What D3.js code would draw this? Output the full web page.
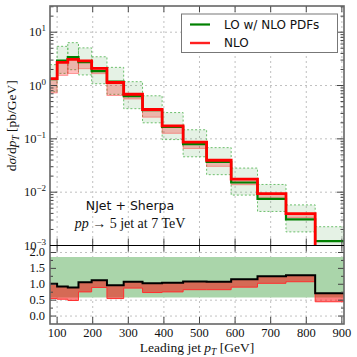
<!DOCTYPE html>
<html>
<head>
<meta charset="utf-8">
<script src="https://cdn.jsdelivr.net/npm/d3@7"></script>
<style>
  body { margin: 0; background: #fff; }
  svg { display: block; }
</style>
</head>
<body>
<svg id="chart" width="357" height="357"></svg>
<script>
// bin edges of leading jet pT [GeV]
const edges = [80, 100, 130, 160, 197, 240, 287, 340, 395, 454, 520, 589, 663, 743, 825, 906];

// main panel, dsigma/dpT [pb/GeV]
const loCentral = [1.32, 2.92, 3.42, 2.73, 1.86, 1.18, 0.635, 0.345, 0.167, 0.0795, 0.0368, 0.0152, 0.0075, 0.0031, 0.00121];
const loUp = [2.46, 5.43, 6.36, 5.08, 3.46, 2.19, 1.18, 0.642, 0.311, 0.148, 0.0684, 0.0283, 0.01395, 0.00577, 0.00225];
const loDown = [0.766, 1.69, 1.98, 1.58, 1.08, 0.684, 0.368, 0.2, 0.0969, 0.0461, 0.0213, 0.00882, 0.00435, 0.0018, 0.0007];
const nloCentral = [1.35, 2.72, 3.08, 2.89, 2.1, 1.14, 0.686, 0.355, 0.175, 0.0867, 0.0397, 0.0176, 0.00938, 0.00397, 0.00087];
const nloDown = [0.726, 1.55, 1.68, 2.07, 1.67, 0.65, 0.559, 0.255, 0.127, 0.066, 0.0305, 0.0138, 0.0077, 0.00335, 0.00054];

// ratio panel
const ratioCentral = [1.02, 0.93, 0.9, 1.06, 1.13, 0.97, 1.08, 1.03, 1.05, 1.09, 1.08, 1.16, 1.25, 1.28, 0.72];
const ratioDown = [0.55, 0.53, 0.49, 0.76, 0.9, 0.55, 0.88, 0.74, 0.76, 0.83, 0.83, 0.91, 1.03, 1.08, 0.45];
const loRatioUp = [1.86, 1.86, 1.86, 1.86, 1.86, 1.86, 1.86, 1.86, 1.86, 1.86, 1.86, 1.86, 1.86, 1.86, 1.86];
const loRatioDown = [0.58, 0.58, 0.58, 0.58, 0.58, 0.58, 0.58, 0.58, 0.58, 0.58, 0.58, 0.58, 0.58, 0.58, 0.58];

const xTicks = [100, 200, 300, 400, 500, 600, 700, 800, 900];
const logTicks = [1e1, 1e0, 1e-1, 1e-2, 1e-3];
const logTickExp = ["1", "0", "\u22121", "\u22122", "\u22123"];
const ratioTicks = [0, 0.5, 1, 1.5, 2];

const svg = d3.select("#chart");
const left = 50, right = 344;
const mainTop = 6, mainBottom = 245.5, ratioBottom = 324;
const serif = "'Liberation Serif', 'DejaVu Serif', serif";
const sans = "'DejaVu Sans', sans-serif";

const x = d3.scaleLinear().domain([80, 906]).range([left, right]);
const y = d3.scaleLog().domain([1e-3, 31]).range([mainBottom, mainTop]);
const yr = d3.scaleLinear().domain([-0.25, 2.22]).range([ratioBottom, mainBottom]);

const bins = d3.range(loCentral.length);

// clip paths
const defs = svg.append("defs");
defs.append("clipPath").attr("id", "clipMain").append("rect")
  .attr("x", left).attr("y", mainTop).attr("width", right - left).attr("height", mainBottom - mainTop);
defs.append("clipPath").attr("id", "clipRatio").append("rect")
  .attr("x", left).attr("y", mainBottom).attr("width", right - left).attr("height", ratioBottom - mainBottom);

// grid
const grid = svg.append("g").attr("stroke", "#b0b0b0").attr("stroke-width", 0.8).attr("stroke-dasharray", "2,3");
grid.selectAll("line.gx").data(xTicks).join("line")
  .attr("x1", d => x(d)).attr("x2", d => x(d)).attr("y1", mainTop).attr("y2", ratioBottom);
grid.selectAll("line.gy").data(logTicks.slice(0, 4)).join("line")
  .attr("x1", left).attr("x2", right).attr("y1", d => y(d)).attr("y2", d => y(d));
grid.selectAll("line.gr").data(ratioTicks).join("line")
  .attr("x1", left).attr("x2", right).attr("y1", d => yr(d)).attr("y2", d => yr(d));

// main panel
const main = svg.append("g").attr("clip-path", "url(#clipMain)");

main.selectAll("rect.loband").data(bins).join("rect")
  .attr("x", i => x(edges[i])).attr("width", i => x(edges[i + 1]) - x(edges[i]))
  .attr("y", i => y(loUp[i])).attr("height", i => y(loDown[i]) - y(loUp[i]))
  .attr("fill", "rgba(0,128,0,0.1)")
  .attr("stroke", "#6cbf6c").attr("stroke-width", 1).attr("stroke-dasharray", "2,2");

main.selectAll("rect.nloband").data(bins).join("rect")
  .attr("x", i => x(edges[i])).attr("width", i => x(edges[i + 1]) - x(edges[i]))
  .attr("y", i => y(nloCentral[i])).attr("height", i => y(nloDown[i]) - y(nloCentral[i]))
  .attr("fill", "rgba(255,0,0,0.25)")
  .attr("stroke", "rgba(255,60,60,0.45)").attr("stroke-width", 1);

function stepPoints(vals) {
  const pts = vals.map((v, i) => [edges[i], v]);
  pts.push([edges[edges.length - 1], vals[vals.length - 1]]);
  return pts;
}
const stepMain = d3.line().x(d => x(d[0])).y(d => y(d[1])).curve(d3.curveStepAfter);
const stepRatio = d3.line().x(d => x(d[0])).y(d => yr(d[1])).curve(d3.curveStepAfter);

main.append("path").attr("d", stepMain(stepPoints(loCentral)))
  .attr("fill", "none").attr("stroke", "#008000").attr("stroke-width", 2.2);
main.append("path").attr("d", stepMain(stepPoints(nloCentral)))
  .attr("fill", "none").attr("stroke", "#ff0000").attr("stroke-width", 2.8);

// ratio panel
const ratio = svg.append("g").attr("clip-path", "url(#clipRatio)");
const bandArea = (hi, lo) => d3.area()
  .x(d => x(d[0])).y0(d => yr(d[1])).y1(d => yr(d[2])).curve(d3.curveStepAfter)(
    hi.map((v, i) => [edges[i], lo[i], v]).concat([[edges[edges.length - 1], lo[lo.length - 1], hi[hi.length - 1]]]));

ratio.append("path").attr("d", bandArea(loRatioUp, loRatioDown))
  .attr("fill", "rgb(170,213,170)");
ratio.append("path").attr("d", bandArea(ratioCentral, ratioDown))
  .attr("fill", "rgba(255,0,0,0.5)");
ratio.append("path").attr("d", stepRatio(stepPoints(ratioDown)))
  .attr("fill", "none").attr("stroke", "#ff3030").attr("stroke-width", 1);
ratio.append("path").attr("d", stepRatio(stepPoints(ratioCentral)))
  .attr("fill", "none").attr("stroke", "#000").attr("stroke-width", 2);

// ticks
const ticks = svg.append("g").attr("stroke", "#444").attr("stroke-width", 1);
xTicks.forEach(t => {
  const px = x(t);
  ticks.append("line").attr("x1", px).attr("x2", px).attr("y1", mainTop).attr("y2", mainTop + 6);
  ticks.append("line").attr("x1", px).attr("x2", px).attr("y1", mainBottom - 7).attr("y2", mainBottom + 6);
  ticks.append("line").attr("x1", px).attr("x2", px).attr("y1", ratioBottom - 7).attr("y2", ratioBottom);
});
// log ticks, major and minor
const minor = [];
for (let e = -3; e <= 1; e++) for (let m = 1; m <= 9; m++) {
  const v = m * Math.pow(10, e);
  if (v >= 1e-3 && v <= 31) minor.push({ v, major: m === 1 });
}
minor.forEach(d => {
  const py = y(d.v), len = d.major ? 7 : 3.5;
  ticks.append("line").attr("x1", left).attr("x2", left + len).attr("y1", py).attr("y2", py);
  ticks.append("line").attr("x1", right - len).attr("x2", right).attr("y1", py).attr("y2", py);
});
d3.range(-0.25, 2.26, 0.25).forEach(v => {
  const major = Math.abs(v * 2 - Math.round(v * 2)) < 1e-6;
  const py = yr(v), len = major ? 6 : 3;
  if (py < mainBottom + 1 || py > ratioBottom - 1) return;
  ticks.append("line").attr("x1", left).attr("x2", left + len).attr("y1", py).attr("y2", py);
  ticks.append("line").attr("x1", right - len).attr("x2", right).attr("y1", py).attr("y2", py);
});

// frames
svg.append("rect").attr("x", left).attr("y", mainTop).attr("width", right - left).attr("height", ratioBottom - mainTop)
  .attr("fill", "none").attr("stroke", "#666").attr("stroke-width", 1.6);
svg.append("line").attr("x1", left).attr("x2", right).attr("y1", mainBottom).attr("y2", mainBottom)
  .attr("stroke", "#000").attr("stroke-width", 1.2);

// tick labels
const lab = svg.append("g").attr("font-family", serif).attr("font-size", 12.5).attr("fill", "#111");
xTicks.forEach(t => {
  lab.append("text").attr("x", x(t)).attr("y", 336.5).attr("text-anchor", "middle").text(t);
});
logTicks.forEach((t, i) => {
  const tx = lab.append("text").attr("x", 46).attr("y", y(t) + 4).attr("text-anchor", "end");
  tx.append("tspan").text("10");
  tx.append("tspan").attr("dy", -5).attr("font-size", 9).text(logTickExp[i]);
});
ratioTicks.forEach(t => {
  lab.append("text").attr("x", 45).attr("y", yr(t) + 4).attr("text-anchor", "end").text(d3.format(".1f")(t));
});

// axis titles
const xt = svg.append("text").attr("x", (left + right) / 2).attr("y", 352).attr("text-anchor", "middle")
  .attr("font-family", serif).attr("font-size", 13.5).attr("fill", "#111");
xt.append("tspan").text("Leading jet ");
xt.append("tspan").attr("font-style", "italic").text("p");
xt.append("tspan").attr("font-style", "italic").attr("font-size", 9.5).attr("dy", 2.5).text("T");
xt.append("tspan").attr("dy", -2.5).text(" [GeV]");

const yt = svg.append("text").attr("transform", "translate(16," + ((mainTop + mainBottom) / 2) + ") rotate(-90)")
  .attr("text-anchor", "middle").attr("font-family", serif).attr("font-size", 13.5).attr("fill", "#111");
yt.append("tspan").text("d");
yt.append("tspan").attr("font-style", "italic").text("\u03c3");
yt.append("tspan").text("/d");
yt.append("tspan").attr("font-style", "italic").text("p");
yt.append("tspan").attr("font-style", "italic").attr("font-size", 9.5).attr("dy", 2.5).text("T");
yt.append("tspan").attr("dy", -2.5).text(" [pb/GeV]");

// annotation
svg.append("text").attr("x", 130).attr("y", 210).attr("text-anchor", "middle")
  .attr("font-family", sans).attr("font-size", 12.5).attr("fill", "#111").text("NJet + Sherpa");
const ann = svg.append("text").attr("x", 130).attr("y", 228).attr("text-anchor", "middle")
  .attr("font-family", serif).attr("font-size", 14).attr("fill", "#111");
ann.append("tspan").attr("font-style", "italic").text("pp");
ann.append("tspan").text(" \u2192 5 jet at 7 TeV");

// legend
const leg = svg.append("g");
leg.append("rect").attr("x", 181.5).attr("y", 14).attr("width", 156).attr("height", 38.5)
  .attr("fill", "#fff").attr("stroke", "#777").attr("stroke-width", 1);
const legItems = [
  { label: "LO w/ NLO PDFs", color: "#008000", w: 2.2, yy: 24.5 },
  { label: "NLO", color: "#ff2020", w: 2.4, yy: 43 }
];
legItems.forEach(d => {
  leg.append("line").attr("x1", 190).attr("x2", 210).attr("y1", d.yy).attr("y2", d.yy)
    .attr("stroke", d.color).attr("stroke-width", d.w);
  leg.append("text").attr("x", 224).attr("y", d.yy + 4.3).attr("font-family", sans).attr("font-size", 12)
    .attr("fill", "#111").text(d.label);
});
</script>
</body>
</html>
